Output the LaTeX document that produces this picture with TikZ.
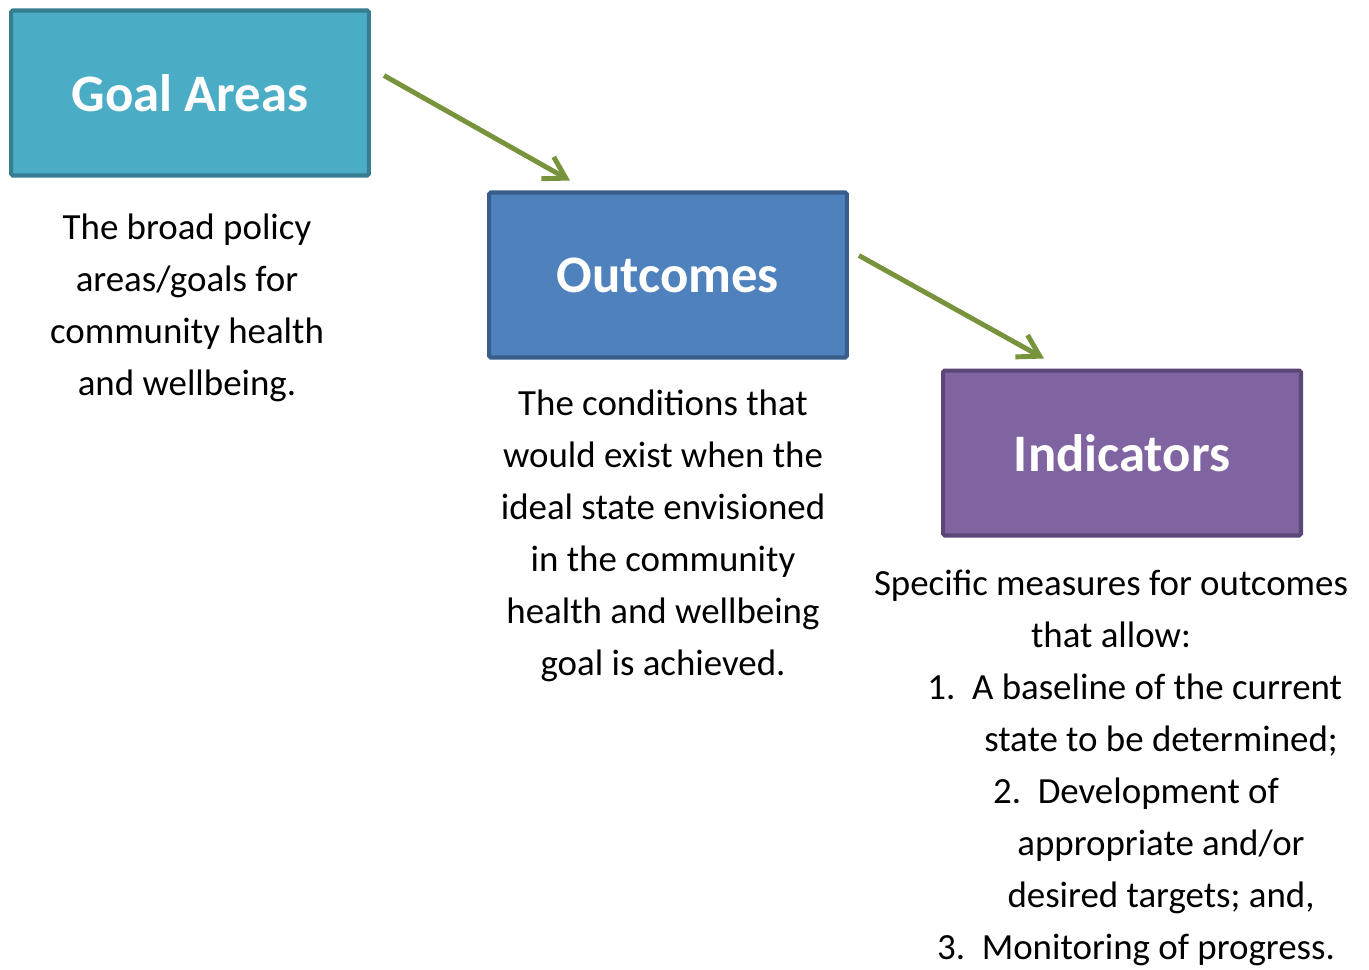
\documentclass[tikz,border=0pt]{standalone}
\usepackage{fontspec}
\setmainfont{Carlito}
\usepackage{tikz}
\usetikzlibrary{arrows.meta,positioning}

\definecolor{goalfill}{HTML}{4BACC6}
\definecolor{goalline}{HTML}{357D91}
\definecolor{outfill}{HTML}{4F81BD}
\definecolor{outline}{HTML}{385D8A}
\definecolor{indfill}{HTML}{8064A2}
\definecolor{indline}{HTML}{5C4776}
\definecolor{arrowgreen}{HTML}{77933C}

\tikzset{
  stage/.style={rectangle, rounded corners=1pt, line width=2.3pt, minimum width=7.16cm,
    minimum height=3.3cm, outer sep=0pt, text=white, font=\fontsize{30}{36}\selectfont\bfseries},
  blurb/.style={align=center, font=\fontsize{21}{29.6}\selectfont},
  flow/.style={draw=arrowgreen, line width=2.8pt, -{Straight Barb[length=0.42cm,width=0.5cm]}}
}

\begin{document}
\begin{tikzpicture}[x=0.02cm, y=-0.02cm]
\useasboundingbox (0,0) rectangle (1369,970);

% the three stages
\node[stage, fill=goalfill, draw=goalline] (goal) at (190,93) {Goal Areas};
\node[stage, fill=outfill, draw=outline] (outcome) at (668,275) {Outcomes};
\node[stage, fill=indfill, draw=indline] (indic) at (1122,453) {Indicators};

% what each stage means
\node[blurb, below=0.65cm of goal, xshift=-0.06cm] (goaltxt) {The broad policy\\areas/goals for\\community health\\and wellbeing.};
\node[blurb, below=0.53cm of outcome, xshift=-0.1cm] (outtxt) {The conditions that\\would exist when the\\ideal state envisioned\\in the community\\health and wellbeing\\goal is achieved.};
\node[blurb, below=0.57cm of indic, xshift=-0.22cm] (indtxt) {Specific measures for outcomes\\that allow:\\
  \hspace*{0.95cm}1.\ \ A baseline of the current\\
  \hspace*{2cm}state to be determined;\\
  \hspace*{1cm}2.\ \ Development of\\
  \hspace*{2cm}appropriate and/or\\
  \hspace*{2cm}desired targets; and,\\
  \hspace*{1cm}3.\ \ Monitoring of progress.};

% arrows between the stages
\coordinate (a1) at ([shift={(15,65)}]goal.north east);
\coordinate (b1) at ([shift={(81,-12)}]outcome.north west);
\coordinate (a2) at ([shift={(12,63)}]outcome.north east);
\coordinate (b2) at ([shift={(101,-12)}]indic.north west);
\draw[flow] (a1) -- (b1);
\draw[flow] (a2) -- (b2);
\end{tikzpicture}
\end{document}
